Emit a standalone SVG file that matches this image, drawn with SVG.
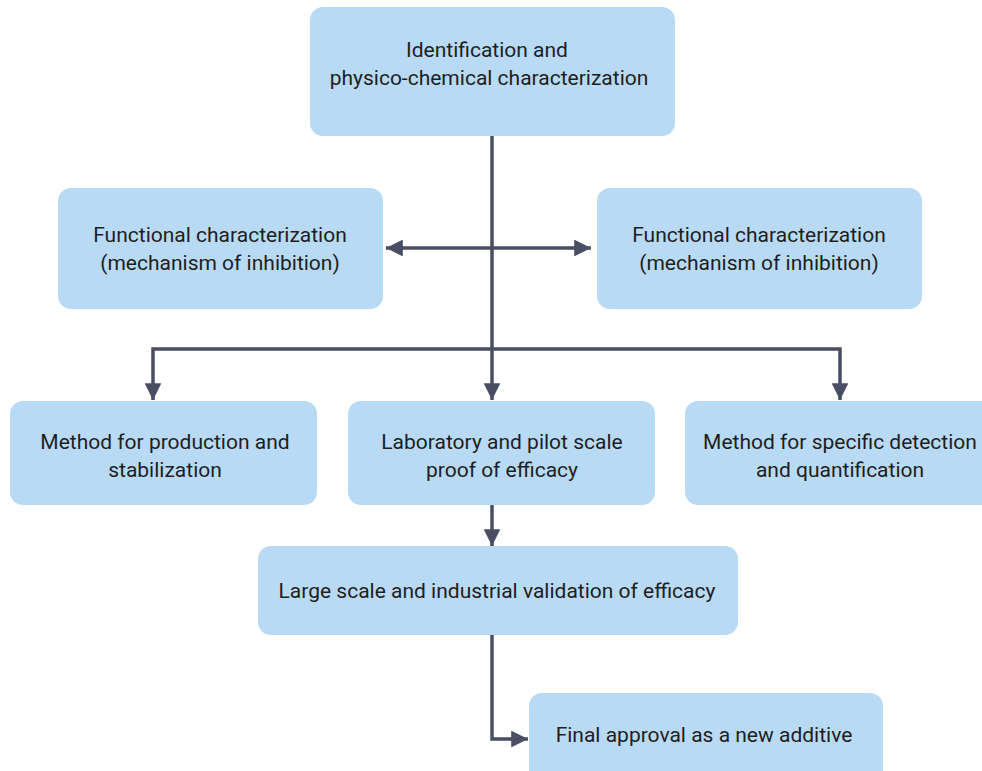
<svg xmlns="http://www.w3.org/2000/svg" width="982" height="771" viewBox="0 0 982 771">
<style>
.box{fill:#b8daf5;}
.t{font-family:Roboto,"Liberation Sans",sans-serif;font-size:21px;fill:#1e1e1e;text-anchor:middle;}
.c{fill:none;stroke:#4a4e62;stroke-width:3.5;}
</style>
<defs>
<marker id="ah" viewBox="0 0 10 10" refX="10" refY="5" markerWidth="4.8" markerHeight="4.8" orient="auto-start-reverse" markerUnits="strokeWidth">
<path d="M0,0 L10,5 L0,10 z" fill="#4a4e62"/>
</marker>
</defs>
<rect width="982" height="771" fill="#ffffff"/>
<g id="connectors">
<path class="c" d="M492,136 V400" marker-end="url(#ah)"/>
<path class="c" d="M386,248 H591" marker-start="url(#ah)" marker-end="url(#ah)"/>
<path class="c" d="M492,349 H153 V400" marker-end="url(#ah)"/>
<path class="c" d="M492,349 H840 V400" marker-end="url(#ah)"/>
<path class="c" d="M492,505 V546" marker-end="url(#ah)"/>
<path class="c" d="M492,635 V739 H528" marker-end="url(#ah)"/>
</g>
<g id="n1"><rect class="box" x="310" y="7" width="365" height="129" rx="13"/>
<text class="t" x="487" y="57">Identification and</text>
<text class="t" x="489" y="85">physico-chemical characterization</text></g>
<g id="n2"><rect class="box" x="58" y="188" width="325" height="121" rx="13"/>
<text class="t" x="220" y="242">Functional characterization</text>
<text class="t" x="220" y="270">(mechanism of inhibition)</text></g>
<g id="n3"><rect class="box" x="597" y="188" width="325" height="121" rx="13"/>
<text class="t" x="759" y="242">Functional characterization</text>
<text class="t" x="759" y="270">(mechanism of inhibition)</text></g>
<g id="n4"><rect class="box" x="10" y="401" width="307" height="104" rx="13"/>
<text class="t" x="165" y="449">Method for production and</text>
<text class="t" x="165" y="477">stabilization</text></g>
<g id="n5"><rect class="box" x="348" y="401" width="307" height="104" rx="13"/>
<text class="t" x="502" y="449">Laboratory and pilot scale</text>
<text class="t" x="502" y="477">proof of efficacy</text></g>
<g id="n6"><rect class="box" x="685" y="401" width="310" height="104" rx="13"/>
<text class="t" x="840" y="449">Method for specific detection</text>
<text class="t" x="840" y="477">and quantification</text></g>
<g id="n7"><rect class="box" x="258" y="546" width="480" height="89" rx="13"/>
<text class="t" x="497" y="598">Large scale and industrial validation of efficacy</text></g>
<g id="n8"><rect class="box" x="529" y="693" width="354" height="90" rx="13"/>
<text class="t" x="704" y="742">Final approval as a new additive</text></g>
</svg>
